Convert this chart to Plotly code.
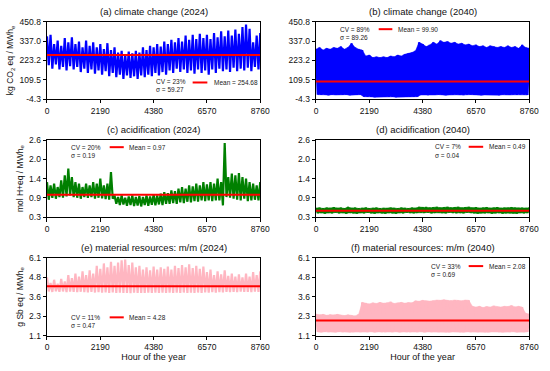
import numpy as np
import plotly.graph_objects as go
from plotly.subplots import make_subplots

# ---------------- data ----------------
hours_pk = np.arange(0, 8761, 146)      # hours of sampled peaks (61)
hours_tr = hours_pk[:-1] + 73           # hours of sampled troughs (60)

x_ticks = [0, 2190, 4380, 6570, 8760]

titles = ["(a) climate change (2024)", "(b) climate change (2040)",
          "(c) acidification (2024)", "(d) acidification (2040)",
          "(e) material resources: m/m (2024)", "(f) material resources: m/m (2040)"]

means = [254.68, 99.90, 0.97, 0.49, 4.28, 2.08]
cvs = ["23%", "89%", "20%", "7%", "11%", "33%"]
sigmas = ["59.27", "89.26", "0.19", "0.04", "0.47", "0.69"]

cc_ticks = [-4.3, 109.5, 223.2, 337.0, 450.8]
cc_ticktext = ["-4.3", "109.5", "223.2", "337.0", "450.8"]
ac_ticks = [0.3, 0.875, 1.45, 2.025, 2.6]
ac_ticktext = ["0.3", "0.9", "1.4", "2.0", "2.6"]
mr_ticks = [1.1, 2.35, 3.6, 4.85, 6.1]
mr_ticktext = ["1.1", "2.3", "3.6", "4.8", "6.1"]

cc24_peaks = [365, 375, 320, 340, 310, 355, 330, 360, 320, 335,
              300, 340, 310, 330, 300, 320, 290, 325, 285, 300,
              270, 280, 260, 275, 265, 280, 270, 300, 285, 310,
              300, 320, 305, 335, 320, 345, 330, 355, 335, 370,
              345, 375, 350, 380, 355, 375, 350, 385, 360, 395,
              365, 400, 370, 405, 380, 420, 435, 410, 330, 370,
              385]
cc24_troughs = [195, 175, 200, 170, 185, 165, 190, 170, 185, 155,
                175, 150, 170, 145, 165, 140, 160, 130, 150, 125,
                140, 115, 135, 120, 130, 115, 135, 125, 140, 130,
                150, 135, 155, 140, 165, 150, 175, 155, 170, 150,
                165, 145, 170, 150, 165, 140, 170, 150, 175, 160,
                170, 155, 180, 160, 175, 165, 180, 160, 185, 170]

cc40_peaks = [290, 300, 285, 295, 290, 300, 295, 305, 290, 300,
              325, 300, 290, 285, 250, 255, 240, 245, 240, 245,
              240, 250, 245, 255, 250, 260, 265, 270, 280, 330,
              320, 305, 315, 330, 320, 340, 330, 335, 325, 330,
              320, 325, 315, 320, 310, 315, 305, 310, 300, 310,
              305, 300, 305, 300, 310, 300, 305, 295, 315, 300,
              295]
cc40_troughs = [22, 20, 21, 19, 22, 20, 21, 20, 22, 19,
                21, 20, 22, 10, 8, 9, 7, 9, 8, 10,
                8, 9, 7, 8, 10, 9, 8, 9, 10, 20,
                22, 19, 21, 20, 22, 21, 19, 20, 22, 21,
                20, 19, 21, 22, 20, 21, 19, 20, 22, 21,
                20, 19, 21, 22, 20, 21, 20, 22, 21, 20]

ac24_peaks = [1.35, 1.25, 1.30, 1.20, 1.40, 1.55, 1.75, 1.50, 1.35, 1.30,
              1.20, 1.30, 1.25, 1.35, 1.30, 1.45, 1.25, 1.30, 1.65, 0.95,
              0.90, 0.95, 0.88, 0.92, 0.95, 0.90, 0.93, 0.90, 0.95, 0.92,
              0.97, 0.95, 1.00, 1.05, 1.02, 1.10, 1.08, 1.15, 1.20, 1.15,
              1.25, 1.22, 1.30, 1.25, 1.35, 1.28, 1.35, 1.30, 1.45, 1.35,
              2.52, 1.50, 1.60, 1.55, 1.62, 1.50, 1.45, 1.35, 1.30, 1.25,
              1.35]
ac24_troughs = [0.82, 0.88, 0.85, 0.90, 0.88, 0.92, 0.95, 0.90, 0.88, 0.85,
                0.90, 0.88, 0.90, 0.85, 0.88, 0.86, 0.84, 0.82, 0.85, 0.70,
                0.66, 0.68, 0.64, 0.66, 0.63, 0.65, 0.62, 0.66, 0.64, 0.67,
                0.65, 0.68, 0.66, 0.70, 0.70, 0.72, 0.70, 0.74, 0.72, 0.76,
                0.74, 0.78, 0.76, 0.80, 0.78, 0.80, 0.78, 0.80, 0.80, 0.65,
                0.90, 0.88, 0.85, 0.82, 0.80, 0.85, 0.78, 0.80, 0.82, 0.80]

ac40_peaks = [0.57, 0.58, 0.56, 0.58, 0.57, 0.59, 0.57, 0.58, 0.56, 0.60,
              0.57, 0.58, 0.56, 0.57, 0.58, 0.56, 0.57, 0.58, 0.56, 0.57,
              0.56, 0.58, 0.57, 0.56, 0.58, 0.57, 0.56, 0.58, 0.57, 0.60,
              0.59, 0.60, 0.58, 0.59, 0.60, 0.58, 0.59, 0.60, 0.58, 0.59,
              0.60, 0.58, 0.59, 0.60, 0.58, 0.59, 0.57, 0.58, 0.59, 0.57,
              0.58, 0.59, 0.57, 0.58, 0.57, 0.59, 0.58, 0.57, 0.58, 0.57,
              0.58]
ac40_troughs = [0.42, 0.43, 0.41, 0.43, 0.42, 0.44, 0.42, 0.43, 0.41, 0.43,
                0.42, 0.41, 0.43, 0.42, 0.44, 0.42, 0.41, 0.43, 0.42, 0.41,
                0.43, 0.42, 0.41, 0.43, 0.42, 0.44, 0.43, 0.42, 0.43, 0.44,
                0.43, 0.44, 0.42, 0.43, 0.44, 0.43, 0.42, 0.44, 0.43, 0.42,
                0.43, 0.42, 0.44, 0.43, 0.42, 0.41, 0.43, 0.42, 0.43, 0.41,
                0.42, 0.43, 0.41, 0.42, 0.43, 0.42, 0.41, 0.43, 0.42, 0.43]

mr24_peaks = [4.85, 4.50, 4.70, 4.45, 4.75, 4.60, 5.00, 4.80, 5.10, 4.90,
              5.25, 5.00, 5.30, 5.10, 5.60, 5.40, 5.75, 5.50, 5.85, 5.60,
              5.80, 5.95, 6.00, 5.65, 5.80, 5.50, 5.60, 5.35, 5.50, 5.30,
              5.55, 5.35, 5.50, 5.40, 5.55, 5.35, 5.60, 5.45, 5.65, 5.50,
              5.70, 5.45, 5.60, 5.40, 5.55, 5.20, 5.35, 5.00, 5.25, 5.05,
              5.30, 4.95, 5.10, 4.90, 5.05, 4.85, 5.10, 4.90, 5.20, 5.00,
              5.25]
mr24_troughs = [3.95, 3.92, 3.96, 3.93, 3.95, 3.91, 3.94, 3.92, 3.90, 3.93,
                3.91, 3.89, 3.92, 3.88, 3.90, 3.87, 3.89, 3.86, 3.88, 3.85,
                3.87, 3.85, 3.86, 3.84, 3.87, 3.85, 3.86, 3.85, 3.87, 3.86,
                3.88, 3.86, 3.87, 3.85, 3.88, 3.86, 3.87, 3.85, 3.88, 3.86,
                3.87, 3.85, 3.88, 3.86, 3.89, 3.87, 3.90, 3.88, 3.91, 3.89,
                3.92, 3.90, 3.93, 3.91, 3.94, 3.92, 3.93, 3.91, 3.94, 3.92]

mr40_peaks = [2.50, 2.45, 2.48, 2.42, 2.46, 2.44, 2.48, 2.43, 2.40, 2.45,
              2.42, 2.38, 2.48, 3.25, 3.20, 3.15, 3.22, 3.18, 3.25, 3.20,
              3.22, 3.28, 3.18, 3.22, 3.25, 3.20, 3.24, 3.22, 3.35, 3.32,
              3.38, 3.35, 3.33, 3.36, 3.40, 3.38, 3.42, 3.38, 3.36, 3.40,
              3.38, 3.35, 3.40, 3.38, 3.00, 2.95, 3.00, 2.92, 2.98, 2.95,
              3.02, 2.97, 2.95, 3.00, 2.98, 3.05, 2.96, 3.00, 2.95, 2.55,
              2.50]
mr40_troughs = [1.35, 1.33, 1.36, 1.34, 1.35, 1.33, 1.36, 1.34, 1.35, 1.33,
                1.34, 1.36, 1.33, 1.35, 1.34, 1.36, 1.33, 1.35, 1.34, 1.33,
                1.35, 1.34, 1.36, 1.33, 1.35, 1.34, 1.33, 1.35, 1.34, 1.36,
                1.33, 1.35, 1.34, 1.36, 1.33, 1.35, 1.34, 1.33, 1.35, 1.36,
                1.34, 1.33, 1.35, 1.34, 1.36, 1.33, 1.35, 1.34, 1.33, 1.35,
                1.36, 1.34, 1.33, 1.35, 1.34, 1.36, 1.33, 1.35, 1.34, 1.35]

# ---------------- figure ----------------
def zig(pk, tr):
    xs, ys = [], []
    for i in range(len(tr)):
        xs += [hours_pk[i], hours_tr[i]]
        ys += [pk[i], tr[i]]
    xs.append(hours_pk[len(tr)])
    ys.append(pk[len(tr)])
    return xs, ys


def band(pk, tr):
    # closed polygon: peaks along the top, troughs back along the bottom
    xs = list(hours_pk) + list(hours_tr[::-1])
    ys = list(pk) + list(tr[::-1])
    return xs, ys


panels = [
    (cc24_peaks, cc24_troughs, "#0000FF", cc_ticks, cc_ticktext, False),
    (cc40_peaks, cc40_troughs, "#0000FF", cc_ticks, cc_ticktext, True),
    (ac24_peaks, ac24_troughs, "#008000", ac_ticks, ac_ticktext, False),
    (ac40_peaks, ac40_troughs, "#008000", ac_ticks, ac_ticktext, True),
    (mr24_peaks, mr24_troughs, "#FFB6C1", mr_ticks, mr_ticktext, False),
    (mr40_peaks, mr40_troughs, "#FFB6C1", mr_ticks, mr_ticktext, True),
]

# legend/text placement (axis-domain fractions)
text_pos = [
    dict(cx=0.50, cy1=0.225, cy2=0.122, lx0=0.683, lx1=0.752, ly=0.215, mx=0.775),
    dict(cx=0.105, cy1=0.905, cy2=0.80, lx0=0.294, lx1=0.358, ly=0.905, mx=0.375),
    dict(cx=0.105, cy1=0.91, cy2=0.806, lx0=0.294, lx1=0.36, ly=0.91, mx=0.377),
    dict(cx=0.549, cy1=0.915, cy2=0.806, lx0=0.716, lx1=0.784, ly=0.915, mx=0.80),
    dict(cx=0.105, cy1=0.2375, cy2=0.133, lx0=0.294, lx1=0.36, ly=0.2375, mx=0.377),
    dict(cx=0.529, cy1=0.896, cy2=0.79, lx0=0.716, lx1=0.784, ly=0.896, mx=0.80),
]

fig = make_subplots(rows=3, cols=2)

W = 550.0
xdom = [[46 / W, 264 / W], [321 / W, 539 / W]]
ydom = [[1 - 96.7 / 371, 1 - 17.3 / 371], [1 - 218 / 371, 1 - 139 / 371], [1 - 340 / 371, 1 - 260 / 371]]
ytitles = ["kg CO<sub>2</sub> eq / MWh<sub>e</sub>", "mol H+eq / MWh<sub>e</sub>", "g Sb eq / MWh<sub>e</sub>"]

font_fam = "Liberation Sans, Arial, sans-serif"
annotations = []
shapes = []

for k, (pk, tr, col, tv, tt, solid) in enumerate(panels):
    r, c = k // 2 + 1, k % 2 + 1
    if solid:
        bx, by = band(pk, tr)
        fig.add_trace(go.Scatter(x=bx, y=by, mode="lines", fill="toself", fillcolor=col,
                                 line=dict(color=col, width=0.5),
                                 showlegend=False, hoverinfo="skip"), row=r, col=c)
    xs, ys = zig(pk, tr)
    fig.add_trace(go.Scatter(x=xs, y=ys, mode="lines", line=dict(color=col, width=2.2),
                             showlegend=False, hoverinfo="skip"), row=r, col=c)
    fig.add_trace(go.Scatter(x=[0, 8760], y=[means[k], means[k]], mode="lines",
                             line=dict(color="#FF0000", width=2), showlegend=False),
                  row=r, col=c)
    axn = "" if k == 0 else str(k + 1)
    fig.update_xaxes(domain=xdom[c - 1], range=[0, 8760], tickvals=x_ticks,
                     ticks="outside", ticklen=3.5, tickwidth=0.8, tickcolor="#000",
                     showline=True, linecolor="#000", linewidth=0.8, mirror=True,
                     showgrid=False, zeroline=False,
                     tickfont=dict(size=8.5, color="#111", family=font_fam),
                     row=r, col=c)
    if r == 3:
        fig.update_xaxes(title=dict(text="Hour of the year",
                                    font=dict(size=9, color="#111", family=font_fam), standoff=2),
                         row=r, col=c)
    fig.update_yaxes(domain=ydom[r - 1], range=[tv[0], tv[-1]], tickvals=tv, ticktext=tt,
                     ticks="outside", ticklen=3.5, tickwidth=0.8, tickcolor="#000",
                     showline=True, linecolor="#000", linewidth=0.8, mirror=True,
                     showgrid=False, zeroline=False,
                     tickfont=dict(size=8.5, color="#111", family=font_fam),
                     row=r, col=c)
    if c == 1:
        fig.update_yaxes(title=dict(text=ytitles[r - 1],
                                    font=dict(size=8.5, color="#111", family=font_fam), standoff=4),
                         row=r, col=c)
    xr, yr = f"x{axn} domain", f"y{axn} domain"
    annotations.append(dict(text=titles[k], xref=xr, yref=yr, x=0.5, y=1, yanchor="bottom",
                            xanchor="center", yshift=3, showarrow=False,
                            font=dict(size=9.5, color="#111", family=font_fam)))
    p = text_pos[k]
    annotations.append(dict(text=f"CV = {cvs[k]}", xref=xr, yref=yr, x=p["cx"], y=p["cy1"],
                            xanchor="left", yanchor="middle", showarrow=False,
                            font=dict(size=6.5, color="#222", family=font_fam)))
    annotations.append(dict(text=f"σ = {sigmas[k]}", xref=xr, yref=yr, x=p["cx"], y=p["cy2"],
                            xanchor="left", yanchor="middle", showarrow=False,
                            font=dict(size=6.5, color="#222", family=font_fam)))
    annotations.append(dict(text=f"Mean = {means[k]:.2f}", xref=xr, yref=yr, x=p["mx"], y=p["ly"],
                            xanchor="left", yanchor="middle", showarrow=False,
                            font=dict(size=6.5, color="#222", family=font_fam)))
    shapes.append(dict(type="line", xref=xr, yref=yr, x0=p["lx0"], x1=p["lx1"],
                       y0=p["ly"], y1=p["ly"], line=dict(color="#FF0000", width=2)))

fig.update_layout(width=550, height=371, margin=dict(l=0, r=0, t=0, b=0),
                  paper_bgcolor="white", plot_bgcolor="white",
                  annotations=annotations, shapes=shapes, showlegend=False,
                  font=dict(family=font_fam))

fig.write_html("out.html", config={"displayModeBar": False},
               post_script="document.body.style.margin='0px';document.body.style.padding='0px';")
